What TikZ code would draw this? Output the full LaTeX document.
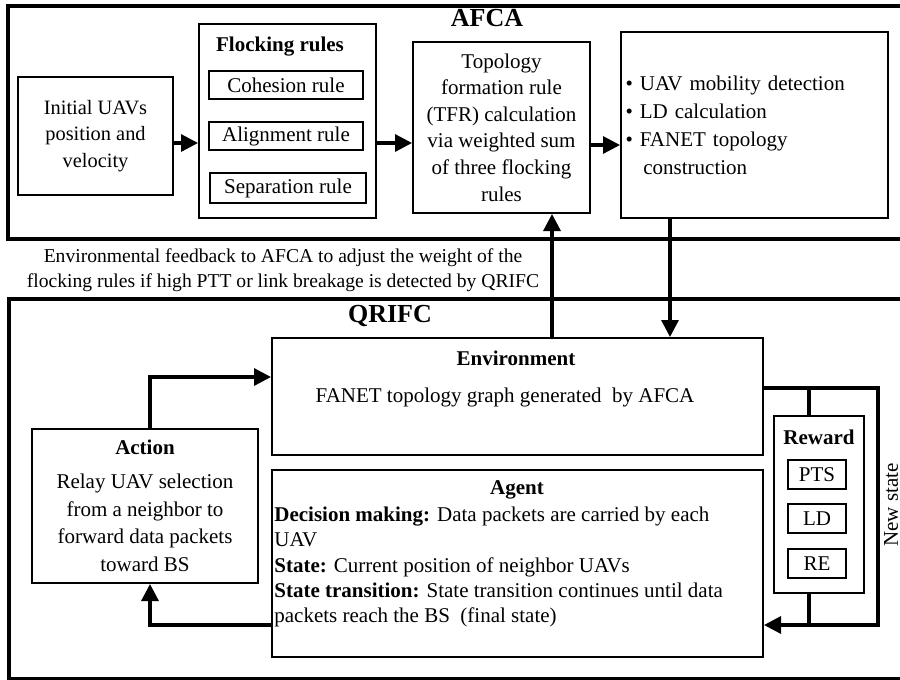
\documentclass[tikz,border=0pt]{standalone}
\usepackage{fontspec}
\setmainfont{Liberation Serif}
\usetikzlibrary{arrows.meta,positioning}

\begin{document}
\begin{tikzpicture}[
  x=0.5pt, y=-0.5pt,
  font=\fontsize{10.5pt}{13.4pt}\selectfont, >={Triangle[length=8.5pt,width=8.5pt]},
  frame/.style={draw, line width=2pt, inner sep=0pt, anchor=north west},
  box/.style 2 args={
    draw, line width=1pt, minimum width=#1, minimum height=#2,
    align=center, inner sep=1pt
  },
  rulebox/.style={draw, line width=0.8pt, minimum width=77pt, minimum height=14pt, inner sep=0pt},
  ttl/.style={font=\fontsize{10.5pt}{12pt}\selectfont\bfseries},
  big/.style={font=\fontsize{13pt}{14pt}\selectfont\bfseries},
  arr/.style={->, line width=1.6pt},
  wire/.style={line width=1.6pt}
]
\useasboundingbox (0,0) rectangle (900,680);
\def\ya{143} \def\yb{145} \def\yin{377} \def\yout{388} \def\yback{625}

% AFCA part
\node[frame, minimum width=452pt, minimum height=116.5pt] (afca) at (6,4) {};
\node[big] (afcattl) at (487,18) {AFCA};

\node[box={77.5pt}{59pt}, font=\fontsize{10.2pt}{13.4pt}\selectfont] (init) at (95.5,136) {%
  Initial UAVs\\position and\\velocity};

\node[box={88.5pt}{97pt}] (flock) at (287.5,121) {};
\node[ttl] (flockttl) at (280,47) {Flocking rules};
\node[rulebox] (coh) at (286,85) {Cohesion rule};
\node[rulebox] (ali) at (286,136) {Alignment rule};
\node[rulebox, minimum width=78pt, minimum height=15pt] (sep) at (288,188) {Separation rule};

\node[box={88.5pt}{85.5pt}, font=\fontsize{10.5pt}{13.3pt}\selectfont] (tfr) at (501.5,127.5) {%
  Topology\\formation rule\\(TFR) calculation\\via weighted sum\\of three flocking\\rules};

\node[box={133.5pt}{93pt}, align=left, text width=129pt, inner sep=2pt,
  font=\fontsize{10.5pt}{14pt}\selectfont] (topo) at (754.5,125) {%
  \textbullet\ UAV mobility detection\\
  \textbullet\ LD calculation\\
  \textbullet\ FANET topology\\
  \hphantom{\textbullet\ \,}construction};

\draw[arr] (init.east |- 0,\ya) -- (flock.west |- 0,\ya);
\draw[arr] (flock.east |- 0,\ya) -- (tfr.west |- 0,\ya);
\draw[arr] (tfr.east |- 0,\yb) -- (topo.west |- 0,\yb);

% feedback between the parts
\node[align=center, font=\fontsize{9.8pt}{12.5pt}\selectfont] (fb) at (283,270) {%
  Environmental feedback to AFCA to adjust the weight of the\\
  flocking rules if high PTT or link breakage is detected by QRIFC};

% QRIFC part
\node[frame, minimum width=451.5pt, minimum height=190pt] (qrifc) at (7,297) {};
\node[big] (qrifcttl) at (390,316) {QRIFC};

\node[box={245.5pt}{58.5pt}] (env) at (517.5,396.5) {};
\node[ttl] (envttl) at (516,358) {Environment};
\node (envtxt) at (505,397) {FANET topology graph generated\ \ by AFCA};

\node[box={113pt}{77pt}, font=\fontsize{10.5pt}{13.8pt}\selectfont] (action) at (145,506) {%
  \textbf{Action}\\[3pt]Relay UAV selection\\from a neighbor to\\forward data packets\\toward BS};

\node[box={245.5pt}{93.5pt}] (agent) at (517.5,563.5) {};
\node[ttl] (agentttl) at (517,490) {Agent};
\node[align=left, anchor=west, inner sep=0pt, font=\fontsize{10.5pt}{12.6pt}\selectfont] (agenttxt) at (274,567) {%
  \textbf{Decision making:} Data packets are carried by each\\
  UAV\\
  \textbf{State:} Current position of neighbor UAVs\\
  \textbf{State transition:} State transition continues until data\\
  packets reach the BS\ \ (final state)};

\node[box={45pt}{88.5pt}] (reward) at (819,504.5) {};
\node[ttl] (rewardttl) at (819,437) {Reward};
\node[rulebox, line width=1pt, minimum width=29pt, minimum height=14.5pt] (pts) at (817,474.5) {PTS};
\node[rulebox, line width=1pt, minimum width=29pt, minimum height=14.5pt] (ld) at (817,518.5) {LD};
\node[rulebox, line width=1pt, minimum width=29pt, minimum height=14.5pt] (re) at (817,563.5) {RE};

\node[rotate=90] (newst) at (891,505) {New state};

\draw[arr] (topo.south -| 670,0) -- (env.north -| 670,0);
\draw[arr] (env.north -| 552,0) -- (tfr.south -| 552,0);
\draw[arr] (action.north -| 150,0) |- (env.west |- 0,\yin);
\draw[arr] (agent.west |- 0,\yback) -| (action.south -| 150,0);
\draw[arr] (env.east |- 0,\yout) -- (878,\yout) |- (agent.east |- 0,\yback);
\draw[wire] (reward.north -| 809,0) -- (809,\yout);
\draw[wire] (reward.south -| 809,0) -- (809,\yback);
\end{tikzpicture}
\end{document}
